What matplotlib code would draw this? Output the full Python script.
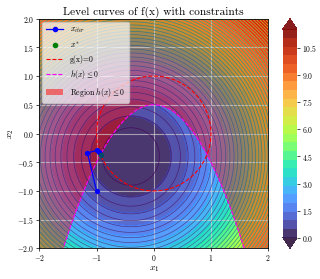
import numpy as np
import matplotlib
matplotlib.use("Agg")
import matplotlib.pyplot as plt
from matplotlib.patches import Patch
from matplotlib.lines import Line2D

plt.rcParams['font.family'] = 'cmr10'
plt.rcParams['mathtext.fontset'] = 'cm'
plt.rcParams['axes.formatter.use_mathtext'] = True

# problem definition values
center = [-0.4, -0.4]
h_offset = 0.5
x_range = [-2, 2]
# iterates
iter_x1 = [-1.0, -1.16, -0.99, -0.95, -0.93]
iter_x2 = [-1.0, -0.34, -0.29, -0.33, -0.366]
xstar = [-0.93, -0.366]
n_fill = 25
cb_ticks = [0.0, 1.5, 3.0, 4.5, 6.0, 7.5, 9.0, 10.5]

x = np.linspace(x_range[0], x_range[1], 400)
X1, X2 = np.meshgrid(x, x)
F = (X1 - center[0])**2 + (X2 - center[1])**2
G = X1**2 + X2**2 - 1
H = h_offset - X1**2 - X2
fill_levels = np.linspace(0, F.max(), n_fill)

fig = plt.figure(figsize=(3.2, 2.79), dpi=100)
ax = fig.add_axes([0.123, 0.110, 0.715, 0.823])
cax = fig.add_axes([0.884, 0.110, 0.044, 0.823])

cf = ax.contourf(X1, X2, F, levels=fill_levels, cmap='turbo', alpha=0.9, extend='both')
ax.contour(X1, X2, F, levels=50, cmap='viridis', linewidths=0.5, alpha=0.9)
ax.contourf(X1, X2, H, levels=[-100, 0], colors=['red'], alpha=0.45)
ax.contour(X1, X2, G, levels=[0], colors='red', linestyles='--', linewidths=0.8)
ax.contour(X1, X2, H, levels=[0], colors='magenta', linestyles='--', linewidths=0.8)
ax.plot(iter_x1, iter_x2, '-o', color='blue', markersize=2.8, linewidth=0.9)
ax.plot(xstar[0], xstar[1], 'o', color='green', markersize=3, alpha=0.5)

ax.grid(True, color='#d8d8d8', linewidth=0.8, alpha=0.65)
ax.set_xlim(-2, 2)
ax.set_ylim(-2, 2)
ax.set_xticks([-2, -1, 0, 1, 2])
ax.set_yticks(np.arange(-2, 2.01, 0.5))
ax.tick_params(labelsize=5.5, length=2, width=0.5, pad=1.5)
ax.set_xlabel('$x_1$', fontsize=7, labelpad=1)
ax.set_ylabel('$x_2$', fontsize=7, labelpad=1)
ax.set_title('Level curves of f(x) with constraints', fontsize=8.2, pad=3)
for s in ax.spines.values():
    s.set_linewidth(0.6)

cb = fig.colorbar(cf, cax=cax)
cb.set_ticks(cb_ticks)
cb.ax.tick_params(labelsize=5.5, length=2, width=0.5, pad=1.5)
cb.outline.set_linewidth(0)

handles = [
    Line2D([], [], color='blue', marker='o', markersize=3, linewidth=0.9),
    Line2D([], [], color='green', marker='o', linestyle='none', markersize=3),
    Line2D([], [], color='red', linestyle='--', linewidth=0.8),
    Line2D([], [], color='magenta', linestyle='--', linewidth=0.8),
    Patch(facecolor='red', alpha=0.5),
]
labels = ['$x_{iter}$', '$x^{*}$', 'g(x)=0', r'$h(x) \leq 0$', r'Region $h(x) \leq 0$']
ax.legend(handles, labels, loc='upper left', fontsize=5.6, framealpha=0.7,
          borderpad=0.5, labelspacing=0.6, handlelength=2.2, borderaxespad=0.4)

fig.savefig('out.png', dpi=100)
